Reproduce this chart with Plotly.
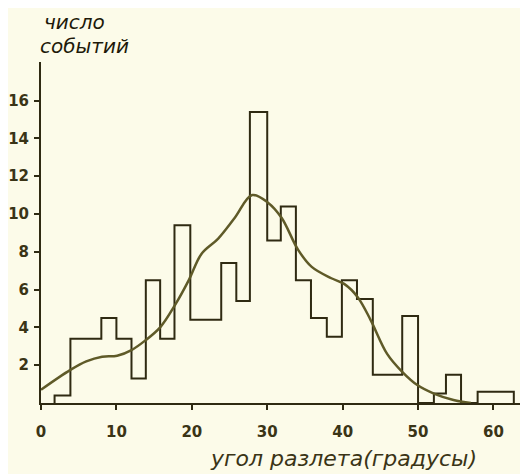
import plotly.graph_objects as go

# Histogram: bin edges (degrees) and counts per bin
bin_edges = [1.8, 3.9, 6, 8, 10, 12, 13.9, 15.8, 17.7, 19.8, 22, 23.9, 25.9, 27.7, 30,
             31.8, 33.8, 35.8, 37.9, 39.9, 41.9, 44, 46, 47.9, 50, 52.1, 53.7, 55.7, 57.9, 62.7]
counts = [0.4, 3.4, 3.4, 4.5, 3.4, 1.3, 6.5, 3.4, 9.4, 4.4, 4.4, 7.4, 5.4, 15.4, 8.6,
          10.4, 6.5, 4.5, 3.5, 6.5, 5.5, 1.5, 1.5, 4.6, 0, 0.5, 1.5, 0, 0.6]

# Smooth curve
curve_x = [0, 3.9, 6, 8.1, 10.1, 12, 13.8, 15.8, 17.8, 19.6, 21.3, 23.5, 25.7, 28, 30.1,
           31.9, 34.1, 35.9, 38.5, 40.2, 42, 43.7, 45.9, 47.9, 49.9, 52.1, 54.7, 57]
curve_y = [0.7, 1.75, 2.2, 2.45, 2.5, 2.8, 3.3, 4.0, 5.2, 6.5, 7.9, 8.7, 9.8, 11.0, 10.6,
           9.8, 8.1, 7.2, 6.6, 6.3, 5.6, 4.4, 2.6, 1.65, 0.95, 0.5, 0.16, 0]

x_ticks = [0, 10, 20, 30, 40, 50, 60]
y_ticks = [2, 4, 6, 8, 10, 12, 14, 16]

ink = "#2f2a12"
olive = "#5f5a28"
bg = "#fcfbe9"

step_x = [bin_edges[0]] + bin_edges
step_y = [0] + counts + [0]

fig = go.Figure()
fig.add_trace(go.Scatter(x=step_x, y=step_y, mode="lines", line=dict(shape="hv", color=ink, width=2),
                         hoverinfo="skip", showlegend=False))
fig.add_trace(go.Scatter(x=curve_x, y=curve_y, mode="lines",
                         line=dict(shape="spline", smoothing=1.0, color=olive, width=2.5),
                         hoverinfo="skip", showlegend=False))

tickfont = dict(family="DejaVu Sans", size=15, color="#3a3416", weight="bold")

# page has an 8px body margin: figure placed at (8, 8) in the window
fig.update_layout(
    width=520, height=466,
    margin=dict(l=30.5, r=0, t=54, b=71),
    paper_bgcolor=bg, plot_bgcolor=bg,
    xaxis=dict(range=[0, 64.58], tickvals=x_ticks, ticktext=[str(v) for v in x_ticks],
               showgrid=False, zeroline=False, showline=True, linecolor=ink, linewidth=2,
               ticks="outside", ticklen=5, tickcolor=ink, tickwidth=1.5,
               tickfont=tickfont, ticklabelstandoff=9),
    yaxis=dict(range=[0, 18.04], tickvals=y_ticks, ticktext=[str(v) for v in y_ticks],
               showgrid=False, zeroline=False, showline=True, linecolor=ink, linewidth=2,
               ticks="outside", ticklen=5, tickcolor=ink, tickwidth=1.5,
               tickfont=tickfont, ticklabelstandoff=2),
    annotations=[
        dict(text="число", xref="paper", yref="paper", x=(72 - 38.5) / 489.5, y=(403 - 22) / 341,
             showarrow=False, xanchor="center", yanchor="middle",
             font=dict(family="DejaVu Sans", size=20, color="#1e1a0a", style="italic")),
        dict(text="событий", xref="paper", yref="paper", x=(82 - 38.5) / 489.5, y=(403 - 46) / 341,
             showarrow=False, xanchor="center", yanchor="middle",
             font=dict(family="DejaVu Sans", size=20, color="#1e1a0a", style="italic")),
        dict(text="угол разлета(градусы)", xref="paper", yref="paper", x=(343 - 38.5) / 489.5,
             y=(403 - 458) / 341, showarrow=False, xanchor="center", yanchor="middle",
             font=dict(family="DejaVu Sans", size=22, color="#3a3416", style="italic")),
    ],
)

fig.write_html("out.html")
